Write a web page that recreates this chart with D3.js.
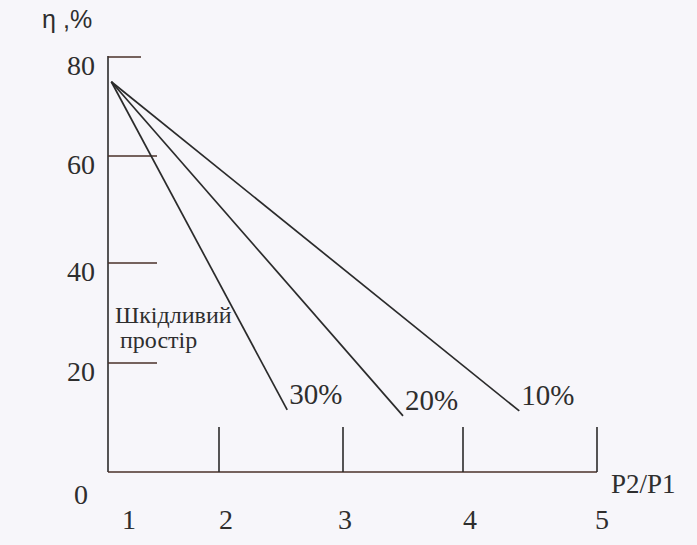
<!DOCTYPE html>
<html>
<head>
<meta charset="utf-8">
<script src="https://cdn.jsdelivr.net/npm/d3@7/dist/d3.min.js"></script>
<style>
  html, body { margin: 0; padding: 0; background: #f7f6fa; }
  svg { display: block; }
  text { font-family: "Liberation Serif", "Times New Roman", serif; fill: #2e2e2e; }
</style>
</head>
<body>
<svg id="chart" width="697" height="545"></svg>
<script>
// ---- data ----
const xTickValues = [1, 2, 3, 4, 5];
const yTickValues = [20, 40, 60, 80];
const seriesNames = ["30%", "20%", "10%"];
const startPoint = [1.03, 75];
const endX = [2.55, 3.5, 4.42];
const endY = [11.4, 10.3, 11.2];
const xAxisTitle = "P2/P1";
const yAxisTitle = ["η", ",%"];
const annotation = ["Шкідливий", "простір"];

// ---- scales (hand-drawn figure: tick spacing not perfectly uniform) ----
const x = d3.scaleLinear().domain([1, 2, 3, 4, 5]).range([108, 219, 343, 463, 597]);
const xLabel = d3.scaleLinear().domain([1, 2, 3, 4, 5]).range([129, 226, 345, 470, 602]);
const y = d3.scaleLinear().domain([0, 20, 40, 60, 80]).range([472, 363, 263, 156, 57]);

const svg = d3.select("#chart");
const ink = "#2b2b2b";
const tickInk = "#4a3029";

// y axis line
svg.append("line")
  .attr("x1", x(1)).attr("x2", x(1))
  .attr("y1", y(80) - 1).attr("y2", y(0))
  .attr("stroke", ink).attr("stroke-width", 1.6);

// y ticks (pointing right)
svg.selectAll(".ytick").data(yTickValues).join("line")
  .attr("class", "ytick")
  .attr("x1", x(1))
  .attr("x2", d => d === 80 ? x(1) + 33 : x(1) + 49)
  .attr("y1", d => y(d)).attr("y2", d => y(d))
  .attr("stroke", tickInk).attr("stroke-width", 1.6);

// y tick labels
svg.selectAll(".ylab").data(yTickValues).join("text")
  .attr("class", "ylab")
  .attr("x", 95).attr("y", d => y(d) + 18)
  .attr("text-anchor", "end")
  .attr("font-size", 28)
  .text(d => d);

// x baseline
svg.append("line")
  .attr("x1", x(1)).attr("x2", x(5))
  .attr("y1", y(0)).attr("y2", y(0))
  .attr("stroke", tickInk).attr("stroke-width", 1.6);

// x ticks (pointing up)
svg.selectAll(".xtick").data(xTickValues.slice(1)).join("line")
  .attr("class", "xtick")
  .attr("x1", d => x(d)).attr("x2", d => x(d))
  .attr("y1", y(0)).attr("y2", y(0) - 45)
  .attr("stroke", ink).attr("stroke-width", 1.6);

// x tick labels
svg.selectAll(".xlab").data(xTickValues).join("text")
  .attr("class", "xlab")
  .attr("x", d => xLabel(d)).attr("y", 529)
  .attr("text-anchor", "middle")
  .attr("font-size", 28)
  .text(d => d);

// origin label
svg.append("text")
  .attr("x", 81).attr("y", 504)
  .attr("text-anchor", "middle")
  .attr("font-size", 28)
  .text("0");

// x axis title
svg.append("text")
  .attr("x", 611).attr("y", 493)
  .attr("font-size", 27)
  .text(xAxisTitle);

// y axis title
const yt = svg.append("text")
  .attr("y", 28)
  .attr("font-size", 25)
  .style("font-family", "'Liberation Sans', Arial, sans-serif");
yt.append("tspan").attr("x", 42).text(yAxisTitle[0]);
yt.append("tspan").attr("x", 63).text(yAxisTitle[1]);

// series lines
const lineData = seriesNames.map((name, i) => ({
  name,
  pts: [startPoint, [endX[i], endY[i]]]
}));
const line = d3.line().x(d => x(d[0])).y(d => y(d[1]));
svg.selectAll(".series").data(lineData).join("path")
  .attr("class", "series")
  .attr("d", d => line(d.pts))
  .attr("fill", "none")
  .attr("stroke", ink).attr("stroke-width", 1.7);

// series labels
svg.selectAll(".slab").data(lineData).join("text")
  .attr("class", "slab")
  .attr("x", d => x(d.pts[1][0]) + 2)
  .attr("y", d => y(d.pts[1][1]) - 6)
  .attr("font-size", 29)
  .text(d => d.name);

// annotation
svg.selectAll(".ann").data(annotation).join("text")
  .attr("class", "ann")
  .attr("x", (d, i) => i === 0 ? 115 : 120)
  .attr("y", (d, i) => 323 + i * 25)
  .attr("font-size", 24)
  .text(d => d);
</script>
</body>
</html>
